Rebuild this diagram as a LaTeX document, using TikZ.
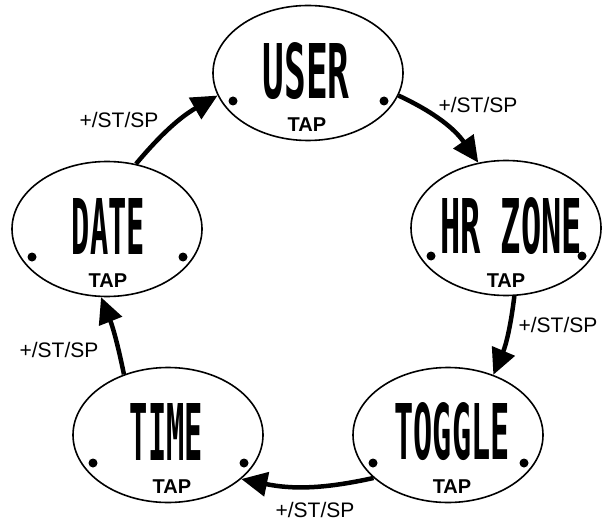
\documentclass[tikz,border=0pt]{standalone}
\usepackage{fontspec}
\setmainfont{Liberation Sans}
\newfontfamily\lcdfont{DejaVu Sans Mono}
\usetikzlibrary{shapes.geometric,arrows.meta}
\tikzset{
  mode/.style={ellipse, draw, line width=1.6pt, minimum width=190pt, minimum height=135pt, inner sep=0pt},
  dotmark/.style={circle, fill, inner sep=0pt, minimum size=9pt},
  taplabel/.style={font=\fontsize{20}{20}\selectfont\bfseries, inner sep=0pt},
  lcd/.style={inner sep=0pt},
  keylabel/.style={font=\fontsize{21}{21}\selectfont, inner sep=0pt},
  flow/.style={line width=4.5pt, -{Triangle[length=26pt,width=24pt]}}
}
\newcommand{\lcdtext}[3]{\resizebox{#1pt}{#2pt}{\lcdfont\bfseries #3}}
\begin{document}
\begin{tikzpicture}[x=1pt,y=-1pt]
\useasboundingbox (0,0) rectangle (609,521);
% ellipses
\node[mode] (user) at (308,73) {};
\node[mode] (hr) at (506,228) {};
\node[mode] (toggle) at (448,435) {};
\node[mode] (time) at (168,435) {};
\node[mode] (date) at (107,229) {};
% lcd texts
\node[lcd] (usert) at (306,71.5) {\lcdtext{87}{56}{USER}};
\node[lcd] (hrt) at (511,226) {\lcdtext{142}{56}{HR ZONE}};
\node[lcd] (togglet) at (452,432) {\lcdtext{115}{57}{TOGGLE}};
\node[lcd] (timet) at (166.5,432) {\lcdtext{73}{57}{TIME}};
\node[lcd] (datet) at (108.5,226.5) {\lcdtext{73}{56}{DATE}};
% TAP labels
\node[taplabel] (usertap) at (307,125) {TAP};
\node[taplabel] (hrtap) at (506,281) {TAP};
\node[taplabel] (toggletap) at (452,487) {TAP};
\node[taplabel] (timetap) at (172,487) {TAP};
\node[taplabel] (datetap) at (108,281) {TAP};
% dots
\foreach \n/\cx/\cy in {user/308/73, hr/506/228, toggle/448/435, time/168/435, date/107/229}{
  \node[dotmark] (\n-dl) at (\cx-75,\cy+28) {};
  \node[dotmark] (\n-dr) at (\cx+76,\cy+28) {};
}
% arrows
\draw[flow] (date.66) to[bend left=10] (user.194);
\draw[flow] (user.-14) to[bend left=15] (hr.113);
\draw[flow] (hr.-83) to[bend left=8] (toggle.53);
\draw[flow] (toggle.210) to[bend left=12] (time.-31);
\draw[flow] (time.126) to[bend right=5] (date.-95);
% labels
\node[keylabel] (l1) at (119,120) {+/ST/SP};
\node[keylabel] (l2) at (478,105) {+/ST/SP};
\node[keylabel] (l3) at (558,325) {+/ST/SP};
\node[keylabel] (l4) at (315,510) {+/ST/SP};
\node[keylabel] (l5) at (59,350) {+/ST/SP};
\end{tikzpicture}
\end{document}
